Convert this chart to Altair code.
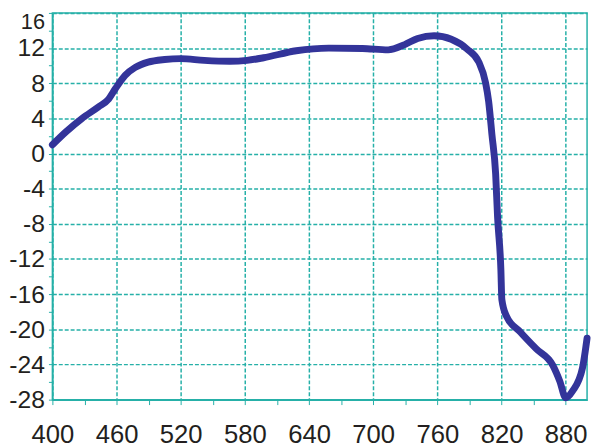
import altair as alt
import pandas as pd

wavelength = [400, 412.9, 427.7, 443, 452.6, 459, 468, 477.5, 489.5, 505, 520, 542, 566, 582,
              597.5, 628, 658.5, 690, 714, 729.5, 741.6, 757, 773, 787.7, 798.8, 805, 808,
              811, 814.5, 816.3, 819.4, 820.3, 824.6, 837.5, 852.3, 868, 874.5, 880, 886.5,
              895.7, 900]
value = [1.0, 2.5, 4.0, 5.3, 6.2, 7.4, 8.9, 9.8, 10.4, 10.7, 10.8, 10.6, 10.5, 10.6,
         10.9, 11.7, 12.0, 11.95, 11.8, 12.4, 13.1, 13.4, 13.0, 11.9, 10.4, 8.1, 5.9,
         2.2, -2.3, -7.2, -13.2, -16.6, -18.5, -20.3, -22.2, -24.1, -25.9, -27.8, -27.0,
         -24.4, -21.0]

x_ticks = list(range(400, 901, 30))
y_ticks = list(range(-28, 17, 2))

df = pd.DataFrame({"x": wavelength, "y": value})

teal = "#26b0a8"

chart = alt.Chart(df).mark_line(
    color="#33349a", strokeWidth=7, interpolate="monotone", strokeCap="round"
).encode(
    x=alt.X("x:Q", scale=alt.Scale(domain=[400, 900], nice=False, zero=False),
            axis=alt.Axis(values=x_ticks, title=None,
                          labelExpr="datum.value % 60 == 40 ? datum.label : ''",
                          gridOpacity={"condition": {"test": "datum.value % 60 == 40", "value": 1}, "value": 0},
                          labelPadding=17, tickSize=5, labelOverlap=False,
                          labelFontSize=26, labelFlush=False)),
    y=alt.Y("y:Q", scale=alt.Scale(domain=[-28, 16], nice=False, zero=False),
            axis=alt.Axis(values=y_ticks, title=None,
                          labelExpr="datum.value % 4 == 0 ? '' + datum.value : ''",
                          gridOpacity={"condition": {"test": "datum.value % 4 == 0", "value": 1}, "value": 0},
                          labelOffset={"condition": {"test": "datum.value == 16", "value": 9}, "value": 0},
                          labelFontSize={"condition": {"test": "datum.value == 16", "value": 22}, "value": 25},
                          labelPadding=4, tickSize=4, labelOverlap=False,
                          labelFlush=False)),
).properties(
    width=542, height=392,
    autosize=alt.AutoSizeParams(type="none"),
    padding={"left": 45, "top": 2, "right": 5, "bottom": 45},
).configure_axis(
    grid=True, gridColor=teal, gridDash=[4, 2], gridWidth=1.5,
    domainColor=teal, domainWidth=1.5, tickColor=teal,
    labelFont="Liberation Sans", labelColor="#231f20",
).configure_view(
    stroke=teal, strokeWidth=1.5
)

chart.save("out.html", embed_options={"renderer": "svg", "actions": False})
